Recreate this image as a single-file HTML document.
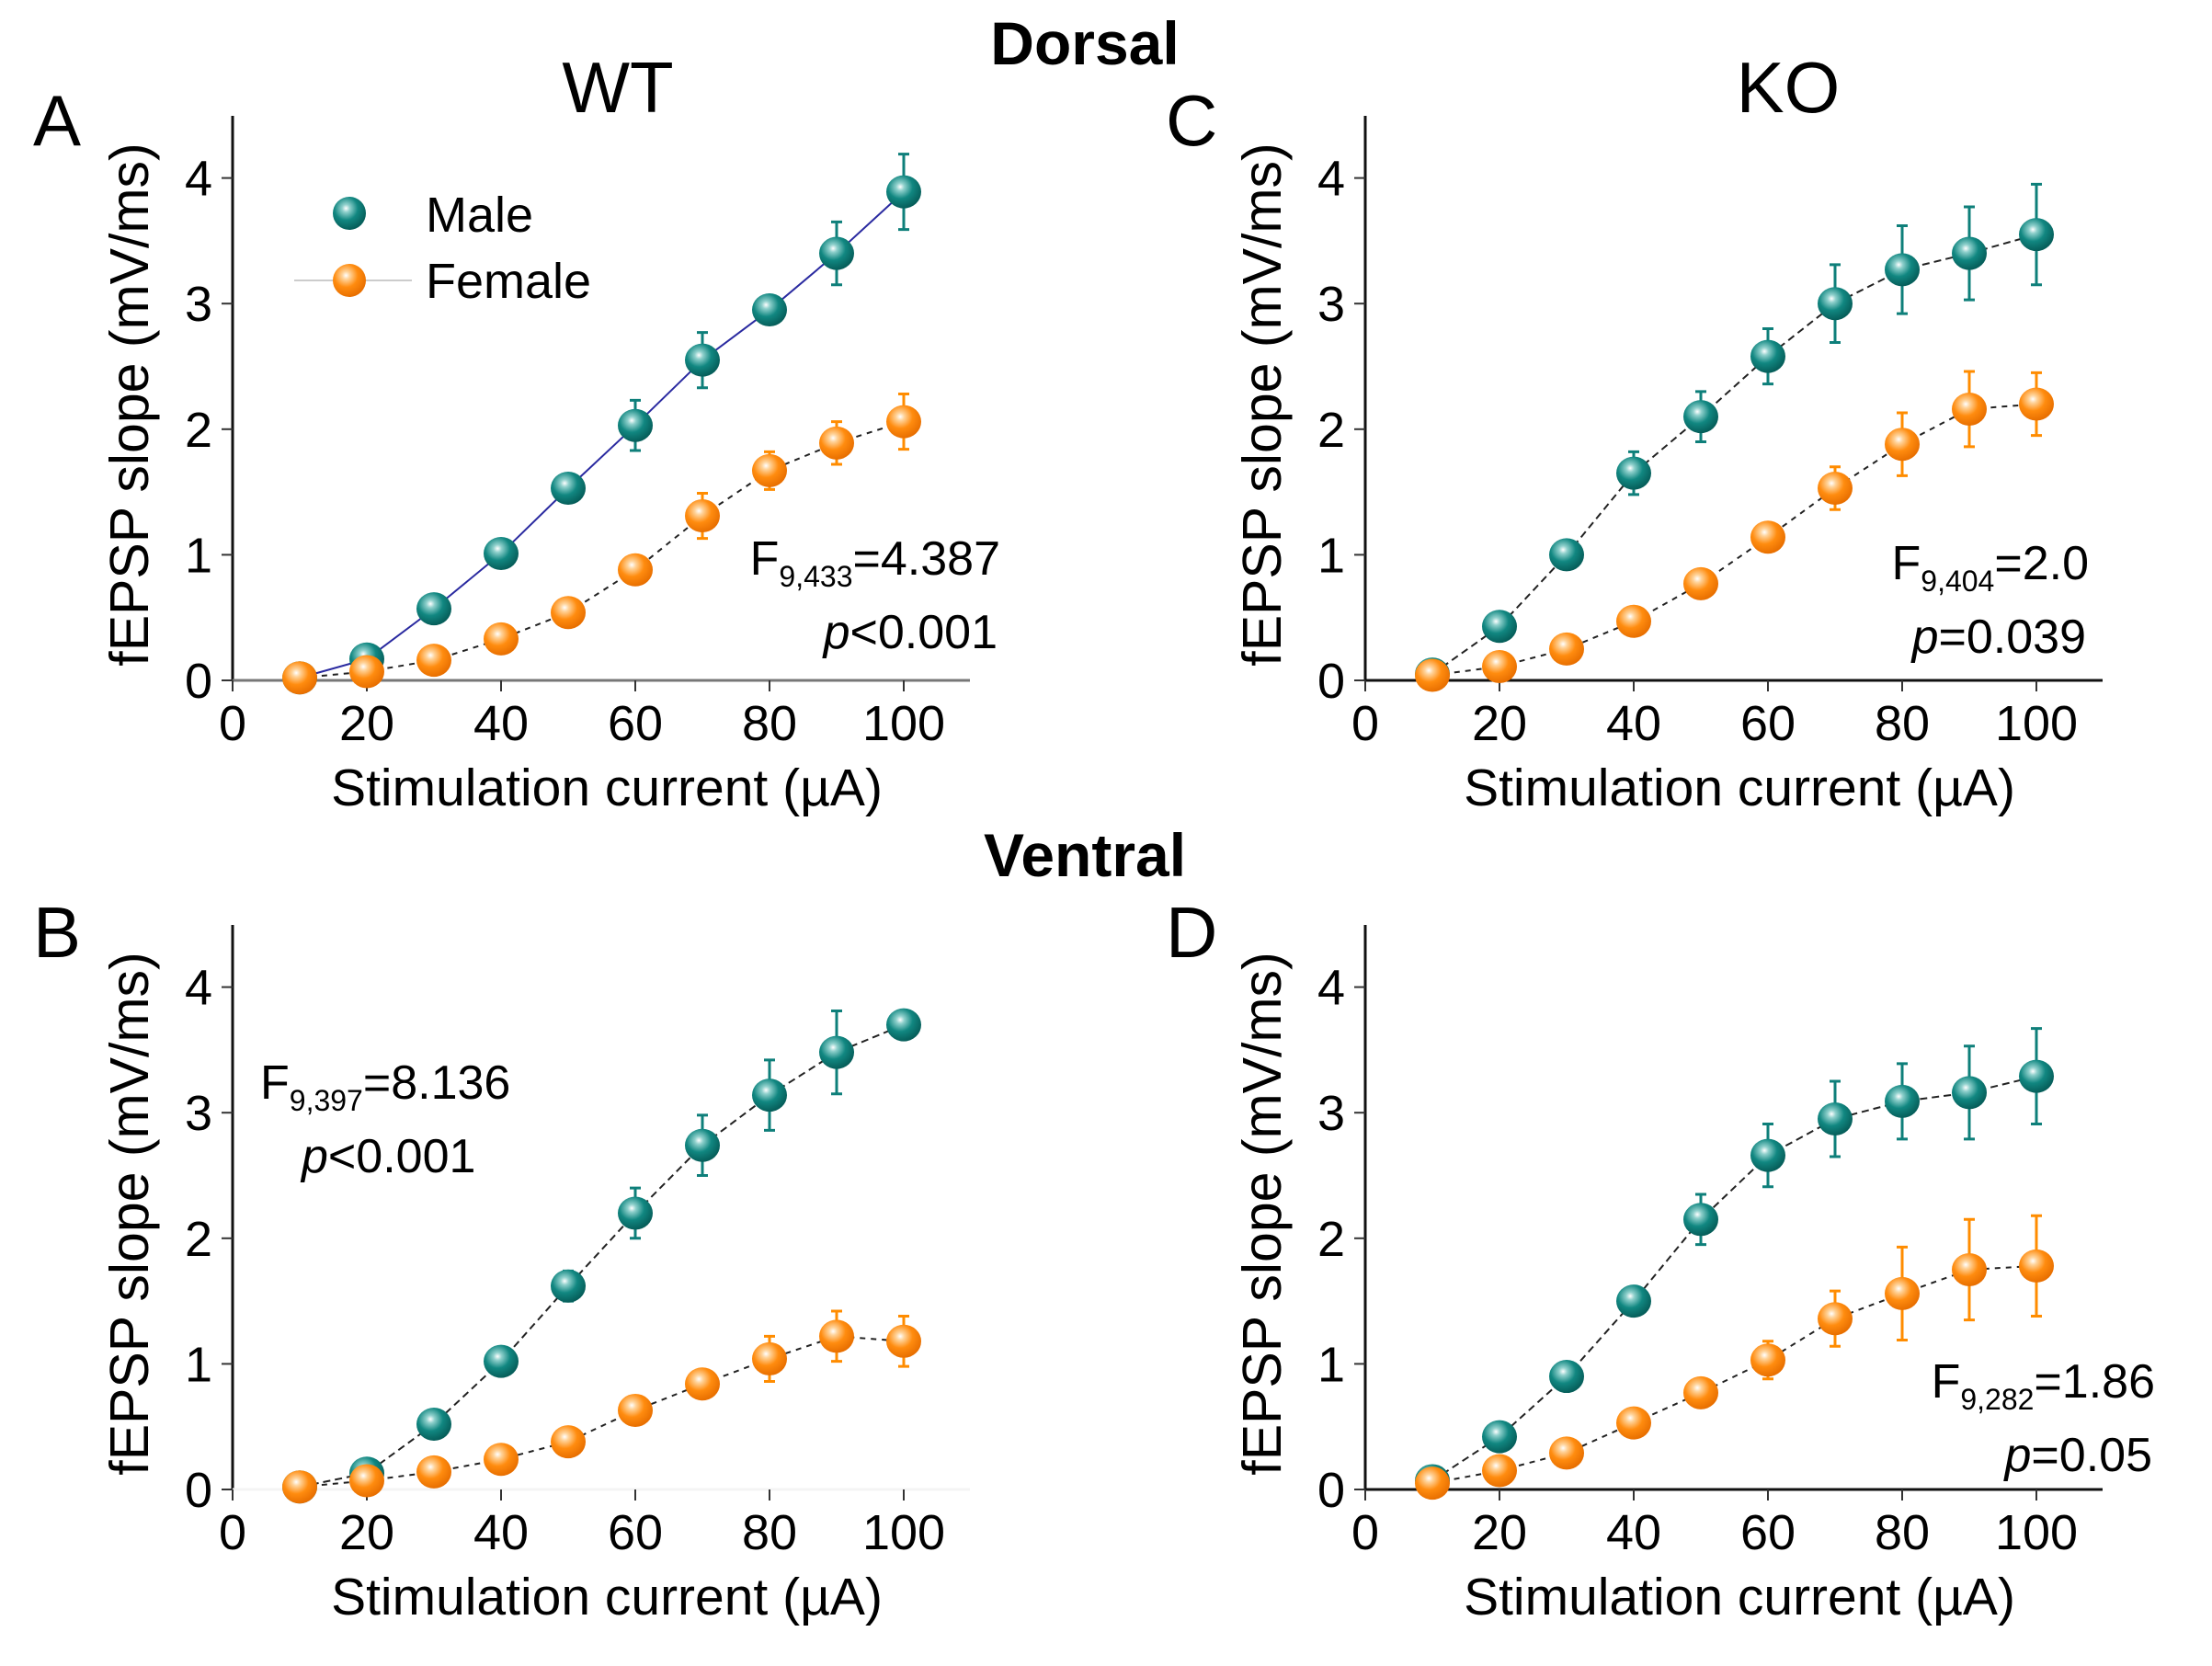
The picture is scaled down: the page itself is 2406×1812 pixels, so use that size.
<!DOCTYPE html>
<html><head><meta charset="utf-8">
<style>
html,body{margin:0;padding:0;background:#fff;}
svg{display:block;font-family:"Liberation Sans",Arial,sans-serif;}
</style></head>
<body>
<svg id="fig" width="2406" height="1812" viewBox="0 0 2406 1812" xmlns="http://www.w3.org/2000/svg">
<defs>
<radialGradient id="gM" cx="0.4" cy="0.35" r="0.65">
<stop offset="0" stop-color="#ffffff"/><stop offset="0.18" stop-color="#8fd0cc"/><stop offset="0.55" stop-color="#118781"/><stop offset="1" stop-color="#065e5a"/></radialGradient>
<radialGradient id="gF" cx="0.4" cy="0.35" r="0.65">
<stop offset="0" stop-color="#ffffff"/><stop offset="0.18" stop-color="#ffd39a"/><stop offset="0.55" stop-color="#ff8c0f"/><stop offset="1" stop-color="#e86f00"/></radialGradient>
</defs>
<text x="1180" y="70" font-size="66" font-weight="bold" text-anchor="middle">Dorsal</text>
<text x="1180" y="953" font-size="66" font-weight="bold" text-anchor="middle">Ventral</text>
<text x="672" y="122" font-size="78" text-anchor="middle">WT</text>
<text x="1945" y="122" font-size="78" text-anchor="middle">KO</text>
<text x="36" y="158" font-size="78">A</text>
<text x="1268" y="158" font-size="78">C</text>
<text x="36" y="1041" font-size="78">B</text>
<text x="1268" y="1041" font-size="78">D</text>
<g>
<circle cx="380" cy="232" r="18" fill="url(#gM)"/>
<text x="463" y="252" font-size="54">Male</text>
<line x1="320" y1="305" x2="448" y2="305" stroke="#ccc" stroke-width="2"/>
<circle cx="380" cy="305" r="18" fill="url(#gF)"/>
<text x="463" y="324" font-size="54">Female</text>
</g>
</svg>
<script>
const xCats=[10,20,30,40,50,60,70,80,90,100];
const xTicks=[0,20,40,60,80,100];
const yTicks=[0,1,2,3,4];
const maleA=[0.02,0.17,0.57,1.01,1.53,2.03,2.55,2.95,3.40,3.89];
const maleAErr=[0,0.03,0.05,0.05,0.06,0.2,0.22,0.08,0.25,0.3];
const femaleA=[0.02,0.07,0.16,0.33,0.54,0.88,1.31,1.67,1.89,2.06];
const femaleAErr=[0,0.02,0.03,0.04,0.05,0.05,0.18,0.15,0.17,0.22];
const maleC=[0.05,0.43,1.0,1.65,2.10,2.58,3.00,3.27,3.40,3.55];
const maleCErr=[0.03,0.04,0.05,0.17,0.2,0.22,0.31,0.35,0.37,0.4];
const femaleC=[0.04,0.11,0.25,0.47,0.77,1.14,1.53,1.88,2.16,2.20];
const femaleCErr=[0.02,0.03,0.04,0.05,0.1,0.05,0.17,0.25,0.3,0.25];
const maleB=[0.02,0.13,0.52,1.02,1.62,2.20,2.74,3.14,3.48,3.70];
const maleBErr=[0,0.03,0.04,0.05,0.12,0.2,0.24,0.28,0.33,0.05];
const femaleB=[0.02,0.07,0.14,0.24,0.38,0.63,0.84,1.04,1.22,1.18];
const femaleBErr=[0,0.02,0.03,0.04,0.05,0.05,0.06,0.18,0.2,0.2];
const maleD=[0.07,0.42,0.90,1.50,2.15,2.66,2.95,3.09,3.16,3.29];
const maleDErr=[0.02,0.04,0.05,0.05,0.2,0.25,0.3,0.3,0.37,0.38];
const femaleD=[0.05,0.15,0.29,0.53,0.77,1.03,1.36,1.56,1.75,1.78];
const femaleDErr=[0.02,0.03,0.04,0.05,0.05,0.15,0.22,0.37,0.4,0.4];
const panels=[
 {id:'a',left:253,bottom:740,male:maleA,mErr:maleAErr,female:femaleA,fErr:femaleAErr,mLine:'#2a2aa0',stat:['9,433','=4.387','<0.001'],sx:1088,sy:625,anchor:'end',axisCol:'#777'},
 {id:'c',left:1485,bottom:740,male:maleC,mErr:maleCErr,female:femaleC,fErr:femaleCErr,mLine:'#222',stat:['9,404','=2.0','=0.039'],sx:2272,sy:630,anchor:'end',axisCol:'#111'},
 {id:'b',left:253,bottom:1620,male:maleB,mErr:maleBErr,female:femaleB,fErr:femaleBErr,mLine:'#222',stat:['9,397','=8.136','<0.001'],sx:283,sy:1195,anchor:'start',axisCol:'#f4f4f4'},
 {id:'d',left:1485,bottom:1620,male:maleD,mErr:maleDErr,female:femaleD,fErr:femaleDErr,mLine:'#222',stat:['9,282','=1.86','=0.05'],sx:2344,sy:1520,anchor:'end',axisCol:'#111'}
];
const NS='http://www.w3.org/2000/svg';
const svg=document.getElementById('fig');
function mk(tag,attrs,parent){const e=document.createElementNS(NS,tag);for(const k in attrs)e.setAttribute(k,attrs[k]);(parent||svg).appendChild(e);return e;}
panels.forEach(p=>{
 const g=mk('g',{});
 
 
 const xs=v=>p.left+v*7.3;
 const ys=v=>p.bottom-v*136.6;
 const yax=mk('line',{x1:p.left,y1:p.bottom,x2:p.left,y2:p.bottom-614,stroke:'#111','stroke-width':3},g);
 
 
 const xax=mk('line',{x1:p.left,y1:p.bottom,x2:p.left+802,y2:p.bottom,stroke:p.axisCol,'stroke-width':3},g);
 
 
 xTicks.forEach(t=>{
  const l=mk('line',{x1:xs(t),y1:p.bottom,x2:xs(t),y2:p.bottom+12,stroke:'#333','stroke-width':2},g);
  
  
  const tx=mk('text',{x:xs(t),y:p.bottom+65,'font-size':54,'text-anchor':'middle'},g);
  
  
  tx.textContent=t;
 });
 yTicks.forEach(t=>{
  const l=mk('line',{x1:p.left-12,y1:ys(t),x2:p.left,y2:ys(t),stroke:'#333','stroke-width':2},g);
  
  
  const tx=mk('text',{x:p.left-22,y:ys(t)+19,'font-size':54,'text-anchor':'end'},g);
  
  
  tx.textContent=t;
 });
 const xt=mk('text',{x:p.left+407,y:p.bottom+136,'font-size':57,'text-anchor':'middle'},g);
 
 
 xt.textContent='Stimulation current (\u00B5A)';
 const yx=p.left-92, yy=p.bottom-300;
 const yt=mk('text',{x:yx,y:yy,'font-size':59,'text-anchor':'middle',transform:'rotate(-90 '+yx+' '+yy+')'},g);
 
 
 yt.textContent='fEPSP slope (mV/ms)';
 const st=mk('text',{x:p.sx,y:p.sy,'font-size':52,'text-anchor':p.anchor},g);
 
 
 st.innerHTML='F<tspan font-size="32" dy="13">'+p.stat[0]+'</tspan><tspan dy="-13">'+p.stat[1]+'</tspan>';
 const sp=mk('text',{x:p.anchor==='end'?p.sx-3:p.sx+45,y:p.sy+80,'font-size':52,'text-anchor':p.anchor},g);
 
 
 sp.innerHTML='<tspan font-style="italic">p</tspan>'+p.stat[2];
 [['male',p.male,p.mErr,'#0e7f7a','url(#gM)',p.mLine,p.id==='a'?'':'8 5'],['female',p.female,p.fErr,'#ff8c00','url(#gF)','#222','6 6']].forEach(s=>{
  const pts=xCats.map((c,i)=>xs(c)+','+ys(s[1][i])).join(' ');
  const ln=mk('polyline',{points:pts,fill:'none',stroke:s[5],'stroke-width':2,'stroke-dasharray':s[6]},g);
  
  
  xCats.forEach((c,i)=>{
   const v=s[1][i],e=s[2][i];
   if(e>0){
    const eb=mk('path',{d:'M'+xs(c)+' '+ys(v+e)+'V'+ys(v-e)+'M'+(xs(c)-6)+' '+ys(v+e)+'h12M'+(xs(c)-6)+' '+ys(v-e)+'h12',stroke:s[3],'stroke-width':3,fill:'none'},g);
    
    
   }
   const m=mk('ellipse',{cx:xs(c),cy:ys(v),rx:19,ry:18,fill:s[4]},g);
   
   
  });
 });
});
</script>
</body></html>
